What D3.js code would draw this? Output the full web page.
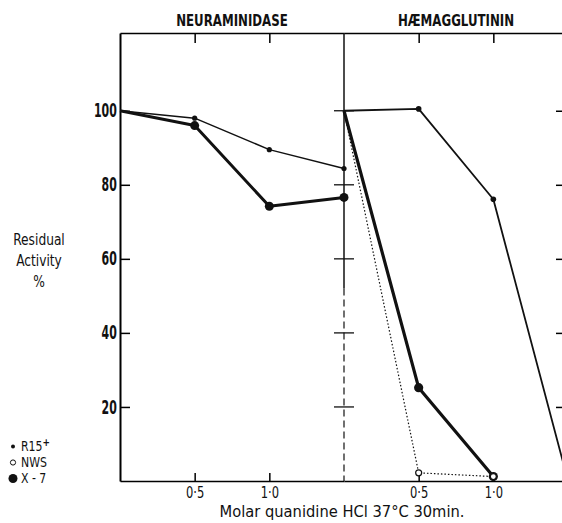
<!DOCTYPE html>
<html>
<head>
<meta charset="utf-8">
<script src="https://cdn.jsdelivr.net/npm/d3@7"></script>
<style>
  body { margin: 0; background: #fff; }
  svg text { font-family: "DejaVu Sans Condensed", "Liberation Sans", sans-serif; fill: #111; }
</style>
</head>
<body>
<div id="chart"></div>
<script>
// molar guanidine HCl, same for both panels
const molar = [0, 0.5, 1.0, 1.5];
const panels = ["NEURAMINIDASE", "HÆMAGGLUTININ"];
const strains = ["R15", "NWS", "X - 7"];

// neuraminidase panel
const naR15 = [100, 98, 89.5, 84.4];
const naX7 = [100, 96, 74.2, 76.6];

// haemagglutinin panel
const haR15 = [100, 100.5, 76.1, 0];
const haNWS = [100, 2.2, 1.2];
const haX7 = [100, 25.2, 1.2];

const yTicks = [20, 40, 60, 80, 100];
const xTicks = [0.5, 1.0];

let dim = {'width': 562, 'height': 523};
let svg = d3.select('#chart').append('svg')
    .attr('width', dim.width)
    .attr('height', dim.height);

let y = d3.scaleLinear().domain([0, 121]).range([481, 33]);
let xNA = d3.scaleLinear().domain([0, 1.5]).range([120, 344]);
let xHA = d3.scaleLinear().domain([0, 1.5]).range([344, 568]);

const fmt = d => d3.format('.1f')(d).replace('.', '·');

// squeeze text horizontally, the original type is very narrow
function narrow(sel, k, x) {
  sel.attr('transform', `scale(${k},1)`);
  if (x !== undefined) sel.attr('x', x / k);
}

// left axis with labels
let axL = svg.append('g')
    .attr('transform', `translate(${xNA(0)},0)`)
    .call(d3.axisLeft(y).tickValues(yTicks).tickSizeInner(-10).tickSizeOuter(0).tickPadding(3));
axL.select('.domain').attr('stroke-width', 2);
axL.selectAll('.tick line').attr('stroke-width', 1.5);
axL.selectAll('text')
    .attr('font-size', 19).attr('font-weight', 'bold').attr('fill', '#111')
    .attr('transform', 'scale(0.64,1)').attr('x', -5);

// right edge ticks only
let axR = svg.append('g')
    .attr('transform', `translate(${dim.width},0)`)
    .call(d3.axisRight(y).tickValues(yTicks).tickSizeInner(-6).tickSizeOuter(0).tickFormat(''));
axR.select('.domain').remove();
axR.selectAll('.tick line').attr('stroke-width', 1.5);

// top + bottom axes of both panels
[xNA, xHA].forEach((sc, i) => {
  let top = svg.append('g')
      .attr('transform', `translate(0,${y(121)})`)
      .call(d3.axisTop(sc).tickValues(xTicks).tickSizeInner(-10).tickSizeOuter(0).tickFormat(''));
  top.select('.domain').attr('stroke-width', 1.6);
  top.selectAll('.tick line').attr('stroke-width', 1.5);

  let bot = svg.append('g')
      .attr('transform', `translate(0,${y(0)})`)
      .call(d3.axisBottom(sc).tickValues(xTicks).tickSizeInner(-8).tickSizeOuter(0).tickPadding(6).tickFormat(fmt));
  bot.select('.domain').attr('stroke-width', 1.6);
  bot.selectAll('.tick line').attr('stroke-width', 1.5);
  bot.selectAll('text').attr('font-size', 16).attr('fill', '#111')
      .attr('transform', 'scale(0.8,1)');

  svg.append('text')
    .attr('y', 26)
    .attr('text-anchor', 'middle')
    .attr('font-size', 16)
    .attr('font-weight', 'bold')
    .text(panels[i])
    .call(narrow, 0.82, (sc(0) + sc(1.5)) / 2);
});

// divider between panels, with crossing ticks
svg.append('line')
    .attr('x1', xHA(0)).attr('x2', xHA(0))
    .attr('y1', y(121)).attr('y2', y(52))
    .attr('stroke', '#111').attr('stroke-width', 1.5);
svg.append('line')
    .attr('x1', xHA(0)).attr('x2', xHA(0))
    .attr('y1', y(52)).attr('y2', y(0))
    .attr('stroke', '#111').attr('stroke-width', 1.2)
    .attr('stroke-dasharray', '7,4');
svg.selectAll('.divtick')
    .data(yTicks)
    .enter()
    .append('line')
    .attr('x1', xHA(0) - 10).attr('x2', xHA(0) + 10)
    .attr('y1', d => y(d)).attr('y2', d => y(d))
    .attr('stroke', '#111').attr('stroke-width', 1.3);

// series
const toPts = (vals, sc) => vals.map((v, i) => [sc(molar[i]), y(v)]);
const line = d3.line();

const lines = [
  {vals: naR15, sc: xNA, w: 1.5, dash: null},
  {vals: naX7, sc: xNA, w: 3, dash: null},
  {vals: haR15, sc: xHA, w: 1.8, dash: null},
  {vals: haNWS, sc: xHA, w: 1.2, dash: '1.5,2'},
  {vals: haX7, sc: xHA, w: 3.2, dash: null}
];

svg.selectAll('path.series')
    .data(lines)
    .enter()
    .append('path')
    .attr('class', 'series')
    .attr('d', d => line(toPts(d.vals, d.sc)))
    .attr('fill', 'none')
    .attr('stroke', '#111')
    .attr('stroke-width', d => d.w)
    .attr('stroke-dasharray', d => d.dash)
    .attr('stroke-linejoin', 'round');

// markers (not at the 0 M start point)
const marks = [
  {vals: naR15, sc: xNA, r: 2.6, open: false},
  {vals: naX7, sc: xNA, r: 4.5, open: false},
  {vals: haR15, sc: xHA, r: 2.8, open: false},
  {vals: haX7, sc: xHA, r: 4.6, open: false},
  {vals: haNWS, sc: xHA, r: 3, open: true}
];
marks.forEach(m => {
  svg.selectAll(null)
    .data(toPts(m.vals, m.sc).slice(1))
    .enter()
    .append('circle')
    .attr('cx', d => d[0]).attr('cy', d => d[1])
    .attr('r', m.r)
    .attr('fill', m.open ? '#fff' : '#111')
    .attr('stroke', '#111')
    .attr('stroke-width', m.open ? 1.2 : 0);
});

// y title
svg.append('text')
    .attr('text-anchor', 'middle')
    .attr('font-size', 16)
    .attr('transform', 'scale(0.85,1)')
    .selectAll('tspan')
    .data(['Residual', 'Activity', '%'])
    .enter()
    .append('tspan')
    .attr('x', 39 / 0.85)
    .attr('y', (d, i) => 245 + i * 21)
    .text(d => d);

// x title
svg.append('text')
    .attr('y', 517)
    .attr('text-anchor', 'middle')
    .attr('font-size', 16.5)
    .text('Molar quanidine HCl  37°C  30min.')
    .call(narrow, 0.99, 342);

// legend
const legR = [2, 2.6, 4.5];
const legOpen = [false, true, false];
let leg = svg.append('g');
strains.forEach((s, i) => {
  let yy = 451 + i * 16;
  leg.append('circle')
    .attr('cx', 13).attr('cy', yy - 4.5)
    .attr('r', legR[i])
    .attr('fill', legOpen[i] ? '#fff' : '#111')
    .attr('stroke', '#111').attr('stroke-width', legOpen[i] ? 1 : 0);
  let t = leg.append('text')
    .attr('y', yy)
    .attr('font-size', 13.5)
    .text(s)
    .call(narrow, 0.9, 21);
  if (i === 0) {
    t.append('tspan').attr('dy', -5).attr('font-size', 11).attr('font-weight', 'bold').text('+');
  }
});
</script>
</body>
</html>
